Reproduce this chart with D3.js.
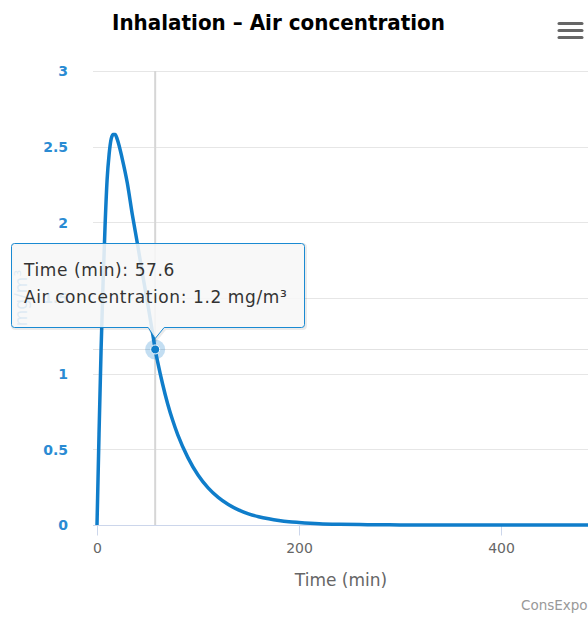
<!DOCTYPE html>
<html>
<head>
<meta charset="utf-8">
<script src="https://cdn.jsdelivr.net/npm/d3@7/dist/d3.min.js"></script>
<style>
  html, body { margin: 0; padding: 0; background: #fff; }
  svg { display: block; font-family: "DejaVu Sans", Verdana, sans-serif; }
</style>
</head>
<body>
<svg id="chart" width="588" height="617"></svg>
<script>
// ---- data ----
const timeMin = [0, 2, 4, 6, 8, 10, 12, 14, 16, 18, 20, 25, 30, 35, 40, 45, 50, 55, 57.6, 60, 65, 70, 75, 80, 90, 100, 110, 120, 130, 140, 150, 160, 170, 180, 190, 200, 220, 240, 260, 280, 300, 350, 400, 450, 500];
const airConc = [0, 0.6, 1.15, 1.6, 1.98, 2.28, 2.45, 2.55, 2.58, 2.58, 2.55, 2.42, 2.26, 2.05, 1.86, 1.66, 1.47, 1.27, 1.16, 1.08, 0.93, 0.8, 0.69, 0.595, 0.445, 0.33, 0.245, 0.182, 0.135, 0.1, 0.074, 0.055, 0.041, 0.03, 0.022, 0.017, 0.009, 0.005, 0.0028, 0.0015, 0.0008, 0.0002, 0, 0, 0];
const xTicks = [0, 200, 400];
const yTicks = [0, 0.5, 1, 1.5, 2, 2.5, 3];
const chartTitle = "Inhalation \u2013 Air concentration";
const xTitle = "Time (min)";
const yTitle = "mg/m\u00b3";
const hoverIndex = 18;
const tooltipLines = ["Time (min): 57.6", "Air concentration: 1.2 mg/m\u00b3"];
const credits = "ConsExpo";

// ---- layout ----
const W = 588, H = 617;
const plotLeft = 93, plotTop = 71, plotBottom = 525;
const seriesColor = "#0f7dca";
const svg = d3.select("#chart");

const x = d3.scaleLinear().domain([0, 500]).range([97, 602]);
const y = d3.scaleLinear().domain([0, 3]).range([plotBottom, plotTop]);

// grid lines
svg.append("g").selectAll("line").data(yTicks).join("line")
  .attr("x1", plotLeft).attr("x2", W)
  .attr("y1", d => Math.round(y(d)) + 0.5).attr("y2", d => Math.round(y(d)) + 0.5)
  .attr("stroke", "#e6e6e6").attr("stroke-width", 1);

// y axis labels
const yAxis = d3.axisLeft(y).tickValues(yTicks).tickSize(0).tickPadding(0)
  .tickFormat(d => d3.format("")(d));
const gy = svg.append("g").attr("transform", "translate(68,0)").call(yAxis);
gy.select(".domain").remove();
gy.selectAll("text").attr("fill", "#2a8bd3").attr("font-size", 14).attr("font-weight", "bold")
  .attr("font-family", "DejaVu Sans").attr("dy", "0.35em").attr("x", 0);

// x axis
const xAxis = d3.axisBottom(x).tickValues(xTicks).tickSize(10).tickPadding(8);
const gx = svg.append("g").attr("transform", `translate(0,${plotBottom + 0.5})`).call(xAxis);
gx.select(".domain").remove();
gx.append("line").attr("x1", plotLeft).attr("x2", W).attr("y1", 0).attr("y2", 0)
  .attr("stroke", "#ccd6eb").attr("stroke-width", 1);
gx.selectAll(".tick line").attr("stroke", "#ccd6eb");
gx.selectAll("text").attr("fill", "#666").attr("font-size", 14).attr("font-family", "DejaVu Sans");

// axis titles
svg.append("text").attr("x", 341).attr("y", 586).attr("text-anchor", "middle")
  .attr("fill", "#666").attr("font-size", 17).text(xTitle);
svg.append("text").attr("transform", "translate(27,298) rotate(-90)").attr("text-anchor", "middle")
  .attr("fill", "#2a8bd3").attr("font-size", 17).text(yTitle);

// title
const t = svg.append("text").attr("x", 278.5).attr("y", 30).attr("text-anchor", "middle")
  .attr("fill", "#000").attr("font-size", 22).attr("font-weight", "bold").text(chartTitle);
t.attr("textLength", 333).attr("lengthAdjust", "spacingAndGlyphs");

// menu icon
svg.append("g").selectAll("line").data([23.5, 30.5, 37.5]).join("line")
  .attr("x1", 559).attr("x2", 582).attr("y1", d => d).attr("y2", d => d)
  .attr("stroke", "#666").attr("stroke-width", 3).attr("stroke-linecap", "round");

// crosshairs
const mx = x(timeMin[hoverIndex]), my = y(airConc[hoverIndex]);
svg.append("line").attr("x1", plotLeft).attr("x2", W).attr("y1", Math.round(my) + 0.5).attr("y2", Math.round(my) + 0.5)
  .attr("stroke", "#e2e2e2").attr("stroke-width", 1);
svg.append("line").attr("x1", mx).attr("x2", mx).attr("y1", plotTop).attr("y2", plotBottom)
  .attr("stroke", "#d6d6d6").attr("stroke-width", 2);

// series line
const pts = timeMin.map((d, i) => [d, airConc[i]]);
const line = d3.line().x(d => x(d[0])).y(d => y(d[1])).curve(d3.curveMonotoneX);
svg.append("path").datum(pts).attr("d", line).attr("fill", "none")
  .attr("stroke", seriesColor).attr("stroke-width", 3.5).attr("stroke-linejoin", "round");

// hover marker
svg.append("circle").attr("cx", mx).attr("cy", my).attr("r", 10).attr("fill", seriesColor).attr("fill-opacity", 0.25);
svg.append("circle").attr("cx", mx).attr("cy", my).attr("r", 4.5).attr("fill", seriesColor).attr("stroke", "#fff").attr("stroke-width", 1);

// credits
svg.append("text").attr("x", 521).attr("y", 610).attr("fill", "#999").attr("font-size", 13.5).text(credits);

// tooltip
const tx0 = 11.5, tx1 = 304.5, ty0 = 243.5, ty1 = 327.5, r = 3;
const tipPath = `M${tx0 + r},${ty0} L${tx1 - r},${ty0} Q${tx1},${ty0} ${tx1},${ty0 + r} L${tx1},${ty1 - r} Q${tx1},${ty1} ${tx1 - r},${ty1}
  L${mx + 9},${ty1} L${mx},${ty1 + 11} L${mx - 7},${ty1} L${tx0 + r},${ty1} Q${tx0},${ty1} ${tx0},${ty1 - r} L${tx0},${ty0 + r} Q${tx0},${ty0} ${tx0 + r},${ty0} Z`;
svg.append("path").attr("d", tipPath).attr("transform", "translate(1,1)")
  .attr("fill", "none").attr("stroke", "#000").attr("stroke-opacity", 0.08).attr("stroke-width", 3);
svg.append("path").attr("d", tipPath).attr("fill", "#f7f7f7").attr("fill-opacity", 0.88)
  .attr("stroke", "#1a8ad2").attr("stroke-width", 1);
svg.append("g").selectAll("text").data(tooltipLines).join("text")
  .attr("x", 24).attr("y", (d, i) => 276 + i * 27)
  .attr("fill", "#333").attr("font-size", 17).attr("letter-spacing", 0.6).text(d => d);
</script>
</body>
</html>
